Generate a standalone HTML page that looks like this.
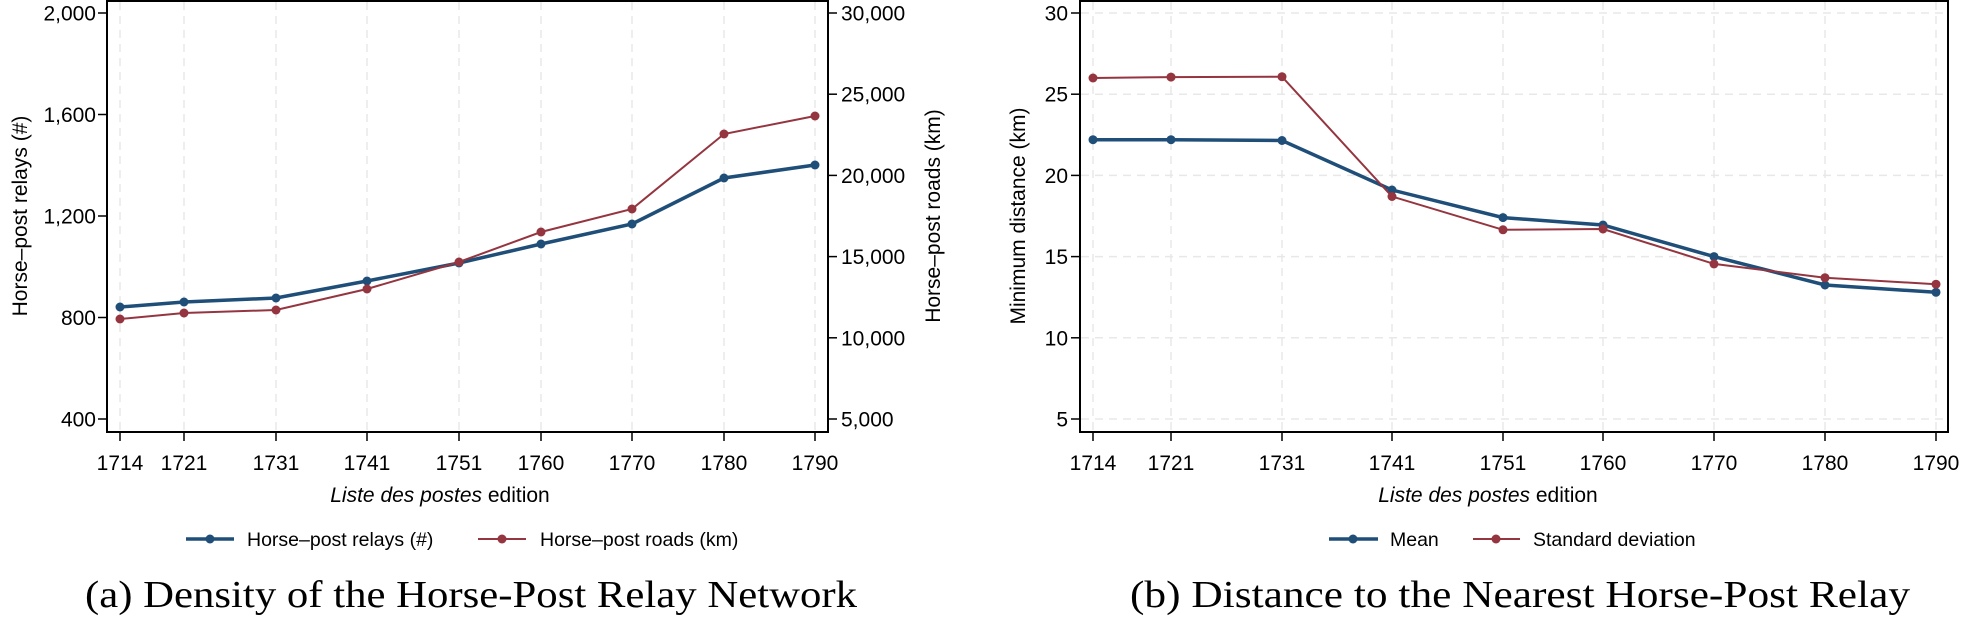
<!DOCTYPE html>
<html><head><meta charset="utf-8"><style>
html,body{margin:0;padding:0;background:#fff;}
svg{display:block;}
text{font-family:"Liberation Sans",sans-serif;fill:#000;}
.t{font-size:21px;}
.cap{font-family:"Liberation Serif",serif;font-size:38px;}
</style></head><body>
<svg width="1962" height="624" viewBox="0 0 1962 624" xmlns="http://www.w3.org/2000/svg">
<rect width="1962" height="624" fill="#fff"/>
<!-- LEFT PANEL -->
<g stroke="#e8e8e8" stroke-width="1.5" stroke-dasharray="8,6">
<line x1="120" y1="2" x2="120" y2="431"/><line x1="184" y1="2" x2="184" y2="431"/><line x1="276" y1="2" x2="276" y2="431"/><line x1="367" y1="2" x2="367" y2="431"/><line x1="459" y1="2" x2="459" y2="431"/><line x1="541" y1="2" x2="541" y2="431"/><line x1="632" y1="2" x2="632" y2="431"/><line x1="724" y1="2" x2="724" y2="431"/><line x1="815" y1="2" x2="815" y2="431"/>
</g>
<rect x="107" y="1" width="721" height="431" fill="none" stroke="#000" stroke-width="2"/>
<g stroke="#000" stroke-width="1.5">
<line x1="98" y1="13" x2="107" y2="13"/><line x1="98" y1="114.5" x2="107" y2="114.5"/><line x1="98" y1="216" x2="107" y2="216"/><line x1="98" y1="317.5" x2="107" y2="317.5"/><line x1="98" y1="419" x2="107" y2="419"/>
<line x1="828" y1="13" x2="837" y2="13"/><line x1="828" y1="94.2" x2="837" y2="94.2"/><line x1="828" y1="175.4" x2="837" y2="175.4"/><line x1="828" y1="256.6" x2="837" y2="256.6"/><line x1="828" y1="337.8" x2="837" y2="337.8"/><line x1="828" y1="419" x2="837" y2="419"/>
<line x1="120" y1="432" x2="120" y2="441"/><line x1="184" y1="432" x2="184" y2="441"/><line x1="276" y1="432" x2="276" y2="441"/><line x1="367" y1="432" x2="367" y2="441"/><line x1="459" y1="432" x2="459" y2="441"/><line x1="541" y1="432" x2="541" y2="441"/><line x1="632" y1="432" x2="632" y2="441"/><line x1="724" y1="432" x2="724" y2="441"/><line x1="815" y1="432" x2="815" y2="441"/>
</g>
<g class="t" text-anchor="end">
<text x="96" y="20.5" class="t">2,000</text><text x="96" y="122" class="t">1,600</text><text x="96" y="223.5" class="t">1,200</text><text x="96" y="325" class="t">800</text><text x="96" y="426.5" class="t">400</text>
</g>
<g text-anchor="start">
<text x="841" y="20.5" class="t">30,000</text><text x="841" y="101.7" class="t">25,000</text><text x="841" y="182.9" class="t">20,000</text><text x="841" y="264.1" class="t">15,000</text><text x="841" y="345.3" class="t">10,000</text><text x="841" y="426.5" class="t">5,000</text>
</g>
<g text-anchor="middle">
<text x="120" y="470" class="t">1714</text><text x="184" y="470" class="t">1721</text><text x="276" y="470" class="t">1731</text><text x="367" y="470" class="t">1741</text><text x="459" y="470" class="t">1751</text><text x="541" y="470" class="t">1760</text><text x="632" y="470" class="t">1770</text><text x="724" y="470" class="t">1780</text><text x="815" y="470" class="t">1790</text>
</g>
<text x="20" y="216" class="t" text-anchor="middle" transform="rotate(-90 20 216)" dy="7">Horse–post relays (#)</text>
<text x="933" y="216" class="t" text-anchor="middle" transform="rotate(-90 933 216)" dy="7">Horse–post roads (km)</text>
<text x="440" y="502" class="t" text-anchor="middle"><tspan font-style="italic">Liste des postes</tspan>  edition</text>
<polyline fill="none" stroke="#1f4e79" stroke-width="3.5" points="120,307 184,302 276,298 367,281 459,263 541,244 632,224 724,178 815,165"/>
<g fill="#1f4e79"><circle cx="120" cy="307" r="4.5"/><circle cx="184" cy="302" r="4.5"/><circle cx="276" cy="298" r="4.5"/><circle cx="367" cy="281" r="4.5"/><circle cx="459" cy="263" r="4.5"/><circle cx="541" cy="244" r="4.5"/><circle cx="632" cy="224" r="4.5"/><circle cx="724" cy="178" r="4.5"/><circle cx="815" cy="165" r="4.5"/></g>
<polyline fill="none" stroke="#943540" stroke-width="2" points="120,319 184,313 276,310 367,289 459,262 541,232 632,209 724,134 815,116"/>
<g fill="#943540"><circle cx="120" cy="319" r="4.5"/><circle cx="184" cy="313" r="4.5"/><circle cx="276" cy="310" r="4.5"/><circle cx="367" cy="289" r="4.5"/><circle cx="459" cy="262" r="4.5"/><circle cx="541" cy="232" r="4.5"/><circle cx="632" cy="209" r="4.5"/><circle cx="724" cy="134" r="4.5"/><circle cx="815" cy="116" r="4.5"/></g>
<!-- left legend -->
<line x1="186" y1="539" x2="234" y2="539" stroke="#1f4e79" stroke-width="3.5"/><circle cx="210" cy="539" r="4.5" fill="#1f4e79"/>
<text x="247" y="546" style="font-size:19.5px">Horse–post relays (#)</text>
<line x1="478" y1="539" x2="526" y2="539" stroke="#943540" stroke-width="2"/><circle cx="502" cy="539" r="4.5" fill="#943540"/>
<text x="540" y="546" style="font-size:19.5px">Horse–post roads (km)</text>
<text x="85" y="607" class="cap" textLength="772" lengthAdjust="spacingAndGlyphs">(a) Density of the Horse-Post Relay Network</text>

<!-- RIGHT PANEL -->
<g stroke="#e8e8e8" stroke-width="1.5" stroke-dasharray="8,6">
<line x1="1093" y1="2" x2="1093" y2="431"/><line x1="1171" y1="2" x2="1171" y2="431"/><line x1="1282" y1="2" x2="1282" y2="431"/><line x1="1392" y1="2" x2="1392" y2="431"/><line x1="1503" y1="2" x2="1503" y2="431"/><line x1="1603" y1="2" x2="1603" y2="431"/><line x1="1714" y1="2" x2="1714" y2="431"/><line x1="1825" y1="2" x2="1825" y2="431"/><line x1="1936" y1="2" x2="1936" y2="431"/>
<line x1="1081" y1="13" x2="1947" y2="13"/><line x1="1081" y1="94.2" x2="1947" y2="94.2"/><line x1="1081" y1="175.4" x2="1947" y2="175.4"/><line x1="1081" y1="256.6" x2="1947" y2="256.6"/><line x1="1081" y1="337.8" x2="1947" y2="337.8"/><line x1="1081" y1="419" x2="1947" y2="419"/>
</g>
<rect x="1080" y="1" width="868" height="431" fill="none" stroke="#000" stroke-width="2"/>
<g stroke="#000" stroke-width="1.5">
<line x1="1071" y1="13" x2="1080" y2="13"/><line x1="1071" y1="94.2" x2="1080" y2="94.2"/><line x1="1071" y1="175.4" x2="1080" y2="175.4"/><line x1="1071" y1="256.6" x2="1080" y2="256.6"/><line x1="1071" y1="337.8" x2="1080" y2="337.8"/><line x1="1071" y1="419" x2="1080" y2="419"/>
<line x1="1093" y1="432" x2="1093" y2="441"/><line x1="1171" y1="432" x2="1171" y2="441"/><line x1="1282" y1="432" x2="1282" y2="441"/><line x1="1392" y1="432" x2="1392" y2="441"/><line x1="1503" y1="432" x2="1503" y2="441"/><line x1="1603" y1="432" x2="1603" y2="441"/><line x1="1714" y1="432" x2="1714" y2="441"/><line x1="1825" y1="432" x2="1825" y2="441"/><line x1="1936" y1="432" x2="1936" y2="441"/>
</g>
<g text-anchor="end">
<text x="1068" y="20.5" class="t">30</text><text x="1068" y="101.7" class="t">25</text><text x="1068" y="182.9" class="t">20</text><text x="1068" y="264.1" class="t">15</text><text x="1068" y="345.3" class="t">10</text><text x="1068" y="426.5" class="t">5</text>
</g>
<g text-anchor="middle">
<text x="1093" y="470" class="t">1714</text><text x="1171" y="470" class="t">1721</text><text x="1282" y="470" class="t">1731</text><text x="1392" y="470" class="t">1741</text><text x="1503" y="470" class="t">1751</text><text x="1603" y="470" class="t">1760</text><text x="1714" y="470" class="t">1770</text><text x="1825" y="470" class="t">1780</text><text x="1936" y="470" class="t">1790</text>
</g>
<text x="1018" y="216" class="t" text-anchor="middle" transform="rotate(-90 1018 216)" dy="7">Minimum distance (km)</text>
<text x="1488" y="502" class="t" text-anchor="middle"><tspan font-style="italic">Liste des postes</tspan>  edition</text>
<polyline fill="none" stroke="#1f4e79" stroke-width="3.5" points="1093,139.7 1171,139.7 1282,140.5 1392,190 1503,217.6 1603,225 1714,256.6 1825,285 1936,292.3"/>
<g fill="#1f4e79"><circle cx="1093" cy="139.7" r="4.5"/><circle cx="1171" cy="139.7" r="4.5"/><circle cx="1282" cy="140.5" r="4.5"/><circle cx="1392" cy="190" r="4.5"/><circle cx="1503" cy="217.6" r="4.5"/><circle cx="1603" cy="225" r="4.5"/><circle cx="1714" cy="256.6" r="4.5"/><circle cx="1825" cy="285" r="4.5"/><circle cx="1936" cy="292.3" r="4.5"/></g>
<polyline fill="none" stroke="#943540" stroke-width="2" points="1093,78 1171,77.1 1282,76.7 1392,196.5 1503,229.8 1603,229 1714,263.9 1825,277.7 1936,284.2"/>
<g fill="#943540"><circle cx="1093" cy="78" r="4.5"/><circle cx="1171" cy="77.1" r="4.5"/><circle cx="1282" cy="76.7" r="4.5"/><circle cx="1392" cy="196.5" r="4.5"/><circle cx="1503" cy="229.8" r="4.5"/><circle cx="1603" cy="229" r="4.5"/><circle cx="1714" cy="263.9" r="4.5"/><circle cx="1825" cy="277.7" r="4.5"/><circle cx="1936" cy="284.2" r="4.5"/></g>
<!-- right legend -->
<line x1="1329" y1="539" x2="1378" y2="539" stroke="#1f4e79" stroke-width="3.5"/><circle cx="1353" cy="539" r="4.5" fill="#1f4e79"/>
<text x="1390" y="546" style="font-size:19.5px">Mean</text>
<line x1="1473" y1="539" x2="1520" y2="539" stroke="#943540" stroke-width="2"/><circle cx="1496" cy="539" r="4.5" fill="#943540"/>
<text x="1533" y="546" style="font-size:19.5px">Standard deviation</text>
<text x="1130" y="607" class="cap" textLength="780" lengthAdjust="spacingAndGlyphs">(b) Distance to the Nearest Horse-Post Relay</text>
</svg>
</body></html>
